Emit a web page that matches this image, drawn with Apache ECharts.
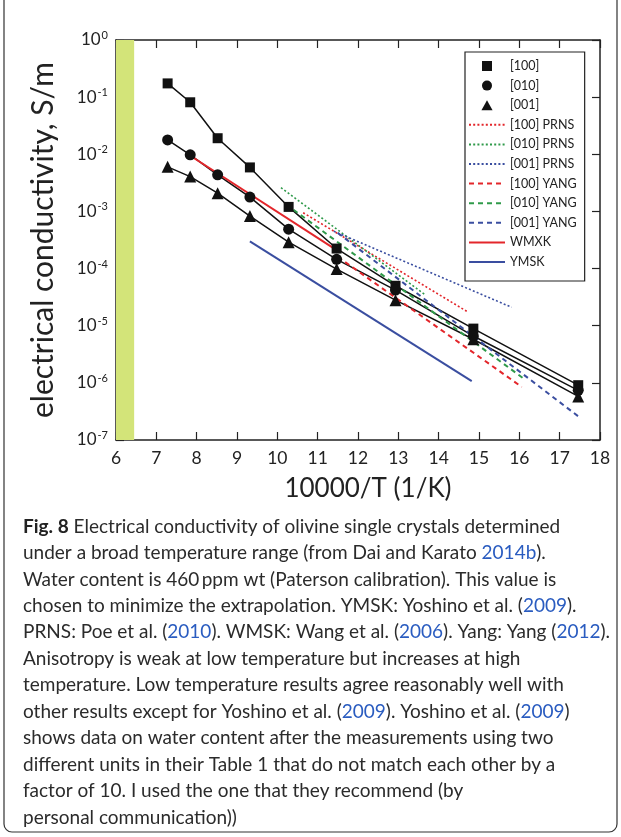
<!DOCTYPE html>
<html><head><meta charset="utf-8">
<script src="https://cdn.jsdelivr.net/npm/echarts@6/dist/echarts.min.js"></script>
<style>html,body{margin:0;padding:0;background:#fff}#c{width:621px;height:837px}</style>
</head><body><div id="c"></div>
<script>
// ---- data ----
const invT = [7.28, 7.84, 8.52, 9.32, 10.28, 11.47, 12.93, 14.86, 17.46];
const sigma100 = [0.174, 0.0813, 0.0191, 0.00589, 0.00120, 2.24e-4, 5.0e-5, 8.9e-6, 9.1e-7];
const sigma010 = [0.0178, 0.00977, 0.00437, 0.00178, 4.9e-4, 1.45e-4, 4.2e-5, 6.6e-6, 7.4e-7];
const sigma001 = [0.00603, 0.00407, 0.00209, 8.3e-4, 2.9e-4, 9.8e-5, 2.8e-5, 5.8e-6, 5.8e-7];

const prns100X = [10.64, 14.70], prns100Y = [9.5e-4, 1.78e-5];
const prns010X = [10.09, 13.66], prns010Y = [2.6e-3, 3.5e-5];
const prns001X = [11.40, 15.81], prns001Y = [4.5e-4, 2.1e-5];
const yang100X = [11.50, 16.06], yang100Y = [1.6e-4, 8.5e-7];
const yang010X = [10.40, 16.10], yang010Y = [1.07e-3, 1.2e-6];
const yang001X = [11.50, 17.46], yang001Y = [4.2e-4, 2.6e-7];
const wmxkX = [7.92, 11.47], wmxkY = [8.7e-3, 2.1e-4];
const ymskX = [9.32, 14.82], ymskY = [3.0e-4, 1.07e-6];

const bandRange = [6, 6.45];
const xTicks = [6, 18, 1];

const markerNames = ['[100]', '[010]', '[001]'];
const lineNames = ['[100] PRNS', '[010] PRNS', '[001] PRNS',
  '[100] YANG', '[010] YANG', '[001] YANG', 'WMXK', 'YMSK'];

const captionLines = [
  '{b|Fig. 8} Electrical conductivity of olivine single crystals determined',
  'under a broad temperature range (from Dai and Karato {y|2014b}).',
  'Water content is 460\u2009ppm wt (Paterson calibration). This value is',
  'chosen to minimize the extrapolation. YMSK: Yoshino et al. ({y|2009}).',
  'PRNS: Poe et al. ({y|2010}). WMSK: Wang et al. ({y|2006}). Yang: Yang ({y|2012}).',
  'Anisotropy is weak at low temperature but increases at high',
  'temperature. Low temperature results agree reasonably well with',
  'other results except for Yoshino et al. ({y|2009}). Yoshino et al. ({y|2009})',
  'shows data on water content after the measurements using two',
  'different units in their Table 1 that do not match each other by a',
  'factor of 10. I used the one that they recommend (by',
  'personal communication))'
];

// ---- build ----
const zip = (xs, ys) => xs.map((x, i) => [x, ys[i]]);
const RED = '#e3262b', GREEN = '#2f9a4a', BLUE = '#3a4ea0';
const FONT = 'Lato';
const CAP = 19;

function seg(name, xs, ys, color, type, width) {
  return {
    name, type: 'line', data: zip(xs, ys), symbol: 'none', showSymbol: false,
    lineStyle: { color, type, width }, itemStyle: { color }, z: 3, silent: true
  };
}

const series = [
  { name: '_l100', type: 'line', data: zip(invT, sigma100), symbol: 'none',
    lineStyle: { color: '#111', width: 1.5 }, z: 2, silent: true,
    markArea: { silent: true, itemStyle: { color: '#d3e479' },
      data: [[{ xAxis: bandRange[0] }, { xAxis: bandRange[1] }]] } },
  { name: '_l010', type: 'line', data: zip(invT, sigma010), symbol: 'none',
    lineStyle: { color: '#111', width: 1.5 }, z: 2, silent: true },
  { name: '_l001', type: 'line', data: zip(invT, sigma001), symbol: 'none',
    lineStyle: { color: '#111', width: 1.5 }, z: 2, silent: true },
  seg('[100] PRNS', prns100X, prns100Y, RED, [2, 2.2], 1.6),
  seg('[010] PRNS', prns010X, prns010Y, GREEN, [2, 2.2], 1.6),
  seg('[001] PRNS', prns001X, prns001Y, BLUE, [2, 2.2], 1.6),
  seg('[100] YANG', yang100X, yang100Y, RED, [5, 4], 2),
  seg('[010] YANG', yang010X, yang010Y, GREEN, [5, 4], 2),
  seg('[001] YANG', yang001X, yang001Y, BLUE, [5, 4], 2),
  seg('WMXK', wmxkX, wmxkY, RED, 'solid', 2),
  seg('YMSK', ymskX, ymskY, BLUE, 'solid', 2),
  { name: '[100]', type: 'scatter', data: zip(invT, sigma100), symbol: 'rect', symbolSize: 10,
    itemStyle: { color: '#111', opacity: 1 }, z: 5 },
  { name: '[010]', type: 'scatter', data: zip(invT, sigma010), symbol: 'circle', symbolSize: 11,
    itemStyle: { color: '#111', opacity: 1 }, z: 5 },
  { name: '[001]', type: 'scatter', data: zip(invT, sigma001), symbol: 'triangle', symbolSize: 12,
    itemStyle: { color: '#111', opacity: 1 }, z: 5 }
];

const markerIcons = ['path://M0,0L10,0L10,10L0,10Z', 'circle', 'path://M5,0L10,9L0,9Z'];
const legendData = markerNames.map((n, i) => ({ name: n, icon: markerIcons[i] }))
  .concat(lineNames.map(n => ({ name: n, itemStyle: { opacity: 0 } })));

const axisCommon = {
  axisLine: { show: true, onZero: false, lineStyle: { color: '#222', width: 1.5 } },
  axisTick: { show: true, inside: true, length: 8, lineStyle: { color: '#222', width: 1.2 } },
  splitLine: { show: false }
};

const supFmt = v => {
  const e = Math.round(Math.log10(v));
  return '10{s|' + e + '}';
};

const graphics = [
  { type: 'rect', shape: { x: 4, y: -20, width: 613, height: 852, r: 8 },
    style: { fill: 'none', stroke: '#333', lineWidth: 1.2 }, silent: true, z: 0 }
];
captionLines.forEach((t, i) => {
  graphics.push({
    type: 'text', left: 23, top: 517 + i * 26.45, silent: true,
    style: {
      text: t, fill: '#2b2b2b', font: CAP + 'px ' + FONT,
      rich: {
        b: { fontWeight: 'bold', fontSize: CAP, fontFamily: FONT, fill: '#222' },
        y: { fill: '#2a5cc0', fontSize: CAP, fontFamily: FONT }
      }
    }
  });
});

const option = {
  animation: false,
  backgroundColor: '#fff',
  textStyle: { fontFamily: FONT },
  grid: { left: 116, top: 40, right: 21, bottom: 397, containLabel: false },
  xAxis: [
    Object.assign({ type: 'value', min: xTicks[0], max: xTicks[1], interval: xTicks[2], position: 'bottom',
      name: '10000/T (1/K)', nameLocation: 'middle', nameGap: 36,
      nameTextStyle: { fontSize: 26, color: '#222', fontFamily: FONT, padding: [0, 0, 0, 20] },
      axisLabel: { fontSize: 17.5, color: '#222', margin: 9, fontFamily: FONT } }, axisCommon),
    Object.assign({ type: 'value', min: xTicks[0], max: xTicks[1], interval: xTicks[2], position: 'top',
      axisLabel: { show: false } }, axisCommon)
  ],
  yAxis: [
    Object.assign({ type: 'log', logBase: 10, min: 1e-7, max: 1, position: 'left',
      name: 'electrical conductivity, S/m', nameLocation: 'middle', nameGap: 58, nameRotate: 90,
      nameTextStyle: { fontSize: 30, color: '#222', fontFamily: FONT },
      axisLabel: { formatter: supFmt, color: '#222', margin: 8, fontSize: 17, fontFamily: FONT,
        rich: { s: { fontSize: 11, verticalAlign: 'top', padding: [0, 0, 9, 1], color: '#222', fontFamily: FONT } } }
    }, axisCommon),
    Object.assign({ type: 'log', logBase: 10, min: 1e-7, max: 1, position: 'right',
      axisLabel: { show: false } }, axisCommon)
  ],
  legend: {
    data: legendData, orient: 'vertical', left: 465, top: 52,
    itemWidth: 36, itemHeight: 10, itemGap: 5.6,
    padding: [7, 8, 12, 3],
    borderColor: '#222', borderWidth: 1.2, backgroundColor: '#fff',
    textStyle: { fontSize: 12.5, color: '#222', lineHeight: 14, fontFamily: FONT },
    selectedMode: false
  },
  graphic: graphics,
  series
};

const chart = echarts.init(document.getElementById('c'), null, { renderer: 'canvas' });
chart.setOption(option);
</script>
</body></html>
